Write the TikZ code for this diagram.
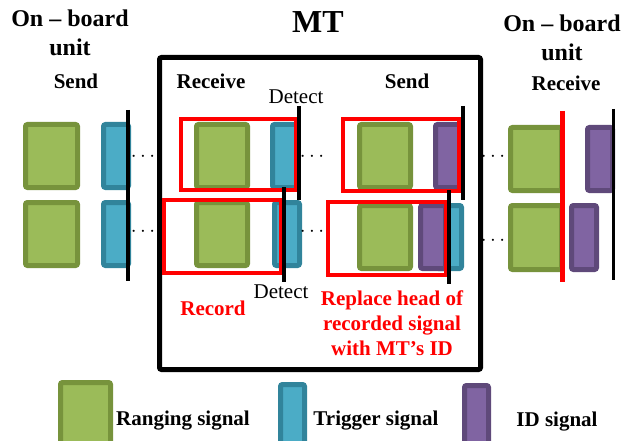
\documentclass[tikz,border=0pt]{standalone}
\usepackage{fontspec}
\setmainfont{Liberation Serif}
\usetikzlibrary{positioning}
\definecolor{rangfill}{HTML}{9BBB59}
\definecolor{rangedge}{HTML}{77933C}
\definecolor{trigfill}{HTML}{4BACC6}
\definecolor{trigedge}{HTML}{31849B}
\definecolor{idfill}{HTML}{8064A2}
\definecolor{idedge}{HTML}{5F497A}
\definecolor{sigred}{HTML}{FF0000}
\tikzset{
  rangsig/.style={fill=rangfill,draw=rangedge,line width=5pt,rounded corners=2pt},
  trigsig/.style={fill=trigfill,draw=trigedge,line width=5pt,rounded corners=2pt},
  idsig/.style={fill=idfill,draw=idedge,line width=5pt,rounded corners=2pt},
  redbox/.style={draw=sigred,line width=4pt},
  cutline/.style={line width=4.5pt},
  bigtxt/.style={font=\fontsize{24}{29}\selectfont\bfseries,align=center},
  lbl/.style={font=\fontsize{21}{25}\selectfont\bfseries,align=center},
  dots/.style={font=\fontsize{20}{20}\selectfont,inner sep=0pt}
}
% block: style, left, top, width, height (outer edge)
\newcommand{\blk}[5]{\path[#1] (#2+2.5,#3+2.5) rectangle (#2+#4-2.5,#3+#5-2.5);}

\begin{document}
\begin{tikzpicture}[x=1pt,y=-1pt]
\clip (0,0) rectangle (626,441);
\node[bigtxt] (obuleft) at (70,33) {On -- board\\unit};
\node[lbl] (sendleft) at (76,81) {Send};
\node[font=\fontsize{32}{36}\selectfont\bfseries] (mt) at (318,22) {MT};
\node[bigtxt] (oburight) at (562,38) {On -- board\\unit};
\node[lbl] (recvright) at (566,83) {Receive};
\node[lbl] (recvmt) at (211,81) {Receive};
\node[lbl] (sendmt) at (407,81) {Send};
% MT frame
\draw[line width=5pt,rounded corners=2pt] (159.5,57.5) rectangle (480.5,369.5);
% on-board unit, send
\blk{rangsig}{23}{122}{57}{68}\blk{trigsig}{101}{122}{30}{68}
\blk{rangsig}{23}{200}{57}{68}\blk{trigsig}{101}{200}{30}{68}
\draw[line width=3.5pt] (128,110)--(128,281);
% MT, receive
\blk{rangsig}{194}{122}{56}{68}\blk{trigsig}{270}{122}{30}{68}
\blk{rangsig}{194}{200}{56}{68}\blk{trigsig}{272}{200}{30}{68}
\draw[redbox] (181,119) rectangle (296,190);\draw[cutline] (299,106)--(299,200);
\draw[redbox] (164,200) rectangle (281,273);\draw[cutline] (284,187)--(284,282);
\node[font=\fontsize{21}{25}\selectfont] (dettop) at (296,97) {Detect};
\node[font=\fontsize{21}{25}\selectfont] (detbot) at (281,292) {Detect};
\node[lbl,text=sigred] (record) at (213,308) {Record};
% MT, send
\blk{rangsig}{357}{122}{56}{68}\blk{idsig}{433}{122}{30}{68}
\blk{rangsig}{357}{203}{56}{68}\blk{trigsig}{434}{203}{30}{68}\blk{idsig}{418}{203}{30}{68}
\draw[redbox] (343,119) rectangle (459,191);\draw[cutline] (463,106)--(463,200);
\draw[redbox] (328,202) rectangle (446,275);\draw[cutline] (449,190)--(449,284);
\node[lbl,text=sigred] (replace) at (392,323) {Replace head of\\recorded signal\\with MT's ID};
% on-board unit, receive
\blk{rangsig}{508}{125}{56}{68}\blk{idsig}{585}{125}{30}{68}
\blk{rangsig}{508}{203}{56}{69}\blk{idsig}{569}{203}{30}{69}
\draw[sigred,line width=5pt] (562,111)--(562,282);\draw[line width=3pt] (613,109)--(613,280);
% gaps
\node[dots] (dl1) at (143,157) {$\cdots$};\node[dots] (dl2) at (143,232) {$\cdots$};
\node[dots] (dm1) at (312,157) {$\cdots$};\node[dots] (dm2) at (312,232) {$\cdots$};
\node[dots] (dr1) at (493,157) {$\cdots$};\node[dots] (dr2) at (493,241) {$\cdots$};
% legend
\blk{rangsig}{58}{380}{55}{66}\node[lbl] (legrang) at (183,421) {Ranging signal};
\blk{trigsig}{278}{382}{29}{64}\node[lbl] (legtrig) at (376,421) {Trigger signal};
\blk{idsig}{462}{383}{29}{63}\node[lbl] (legid) at (557,422) {ID signal};
\end{tikzpicture}
\end{document}
